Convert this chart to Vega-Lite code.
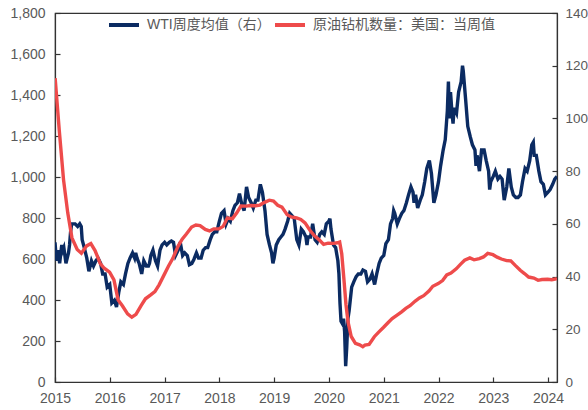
{
  "$schema": "https://vega.github.io/schema/vega-lite/v6.json",
  "width": 502,
  "height": 369,
  "autosize": {"type": "none"},
  "padding": {"left": 55, "top": 13, "right": 31, "bottom": 28},
  "config": {
    "view": {"stroke": "#333333", "strokeWidth": 1.2},
    "font": "Liberation Sans",
    "axis": {
      "grid": false,
      "domainColor": "#333333",
      "domainWidth": 1.2,
      "tickColor": "#333333",
      "tickWidth": 1.2,
      "tickSize": -5,
      "labelColor": "#595959",
      "labelFont": "Liberation Sans",
      "labelFontSize": 14,
      "title": null
    }
  },
  "datasets": {
    "wti": [
      {"date": "2015-01-01", "value": 53}, {"date": "2015-01-08", "value": 48}, {"date": "2015-01-15", "value": 46}, {"date": "2015-01-22", "value": 50}, {"date": "2015-02-01", "value": 45},
      {"date": "2015-02-15", "value": 52}, {"date": "2015-02-22", "value": 50},
      {"date": "2015-03-01", "value": 51}, {"date": "2015-03-15", "value": 45}, {"date": "2015-04-01", "value": 49}, {"date": "2015-04-08", "value": 52}, {"date": "2015-04-15", "value": 57},
      {"date": "2015-04-22", "value": 60}, {"date": "2015-05-15", "value": 60}, {"date": "2015-06-01", "value": 59}, {"date": "2015-06-15", "value": 60},
      {"date": "2015-06-25", "value": 59}, {"date": "2015-07-01", "value": 54}, {"date": "2015-07-15", "value": 51}, {"date": "2015-08-01", "value": 47}, {"date": "2015-08-15", "value": 42},
      {"date": "2015-09-01", "value": 46}, {"date": "2015-09-15", "value": 44}, {"date": "2015-10-01", "value": 46}, {"date": "2015-10-15", "value": 47},
      {"date": "2015-11-01", "value": 45}, {"date": "2015-11-15", "value": 41}, {"date": "2015-12-01", "value": 41}, {"date": "2015-12-15", "value": 36},
      {"date": "2016-01-01", "value": 37}, {"date": "2016-01-15", "value": 30}, {"date": "2016-02-01", "value": 31}, {"date": "2016-02-15", "value": 28.5},
      {"date": "2016-03-01", "value": 34}, {"date": "2016-03-15", "value": 38}, {"date": "2016-04-01", "value": 37}, {"date": "2016-04-15", "value": 41},
      {"date": "2016-05-01", "value": 45}, {"date": "2016-05-15", "value": 47}, {"date": "2016-06-01", "value": 49}, {"date": "2016-06-15", "value": 47},
      {"date": "2016-06-22", "value": 49}, {"date": "2016-07-01", "value": 47}, {"date": "2016-07-15", "value": 45}, {"date": "2016-08-01", "value": 41}, {"date": "2016-08-15", "value": 46},
      {"date": "2016-09-01", "value": 44}, {"date": "2016-09-15", "value": 44}, {"date": "2016-09-22", "value": 45}, {"date": "2016-10-01", "value": 48}, {"date": "2016-10-15", "value": 50},
      {"date": "2016-11-01", "value": 46}, {"date": "2016-11-15", "value": 44}, {"date": "2016-12-01", "value": 50}, {"date": "2016-12-15", "value": 52},
      {"date": "2017-01-01", "value": 53}, {"date": "2017-01-15", "value": 52}, {"date": "2017-02-01", "value": 53}, {"date": "2017-02-15", "value": 53.5},
      {"date": "2017-03-01", "value": 53}, {"date": "2017-03-15", "value": 48}, {"date": "2017-04-01", "value": 50}, {"date": "2017-04-15", "value": 53},
      {"date": "2017-05-01", "value": 48}, {"date": "2017-05-15", "value": 49}, {"date": "2017-06-01", "value": 48}, {"date": "2017-06-15", "value": 44.5},
      {"date": "2017-07-01", "value": 45}, {"date": "2017-07-15", "value": 46.5}, {"date": "2017-08-01", "value": 49}, {"date": "2017-08-15", "value": 47},
      {"date": "2017-09-01", "value": 47}, {"date": "2017-09-15", "value": 50}, {"date": "2017-10-01", "value": 51}, {"date": "2017-10-15", "value": 51},
      {"date": "2017-11-01", "value": 54}, {"date": "2017-11-15", "value": 56}, {"date": "2017-12-01", "value": 57}, {"date": "2017-12-15", "value": 57},
      {"date": "2018-01-01", "value": 61}, {"date": "2018-01-15", "value": 64}, {"date": "2018-02-01", "value": 65}, {"date": "2018-02-15", "value": 60},
      {"date": "2018-03-01", "value": 62}, {"date": "2018-03-15", "value": 61}, {"date": "2018-04-01", "value": 65}, {"date": "2018-04-15", "value": 67},
      {"date": "2018-05-01", "value": 68}, {"date": "2018-05-15", "value": 71.5}, {"date": "2018-06-01", "value": 67}, {"date": "2018-06-15", "value": 65},
      {"date": "2018-07-01", "value": 74}, {"date": "2018-07-15", "value": 70}, {"date": "2018-08-01", "value": 68}, {"date": "2018-08-15", "value": 66},
      {"date": "2018-09-01", "value": 69}, {"date": "2018-09-15", "value": 69}, {"date": "2018-10-01", "value": 75}, {"date": "2018-10-15", "value": 72},
      {"date": "2018-11-01", "value": 65}, {"date": "2018-11-15", "value": 56}, {"date": "2018-12-01", "value": 52}, {"date": "2018-12-15", "value": 49},
      {"date": "2018-12-24", "value": 45},
      {"date": "2019-01-01", "value": 47}, {"date": "2019-01-15", "value": 52}, {"date": "2019-02-01", "value": 54}, {"date": "2019-02-15", "value": 55},
      {"date": "2019-03-01", "value": 56}, {"date": "2019-03-15", "value": 58}, {"date": "2019-04-01", "value": 61}, {"date": "2019-04-15", "value": 64},
      {"date": "2019-05-01", "value": 63}, {"date": "2019-05-15", "value": 62}, {"date": "2019-06-01", "value": 54}, {"date": "2019-06-15", "value": 52},
      {"date": "2019-07-01", "value": 58}, {"date": "2019-07-15", "value": 57}, {"date": "2019-08-01", "value": 55}, {"date": "2019-08-08", "value": 52}, {"date": "2019-08-15", "value": 55},
      {"date": "2019-09-01", "value": 55}, {"date": "2019-09-15", "value": 60}, {"date": "2019-10-01", "value": 54}, {"date": "2019-10-15", "value": 53},
      {"date": "2019-11-01", "value": 56}, {"date": "2019-11-15", "value": 57}, {"date": "2019-12-01", "value": 56}, {"date": "2019-12-15", "value": 60},
      {"date": "2020-01-01", "value": 61}, {"date": "2020-01-08", "value": 62}, {"date": "2020-01-15", "value": 58}, {"date": "2020-02-01", "value": 52},
      {"date": "2020-02-15", "value": 51}, {"date": "2020-03-01", "value": 46}, {"date": "2020-03-08", "value": 41}, {"date": "2020-03-15", "value": 30},
      {"date": "2020-03-22", "value": 23}, {"date": "2020-04-01", "value": 22}, {"date": "2020-04-08", "value": 24}, {"date": "2020-04-15", "value": 19},
      {"date": "2020-04-22", "value": 6}, {"date": "2020-04-29", "value": 13}, {"date": "2020-05-07", "value": 24}, {"date": "2020-05-15", "value": 27},
      {"date": "2020-06-01", "value": 36}, {"date": "2020-06-15", "value": 38}, {"date": "2020-07-01", "value": 40}, {"date": "2020-07-15", "value": 41},
      {"date": "2020-08-01", "value": 41}, {"date": "2020-08-15", "value": 42.5}, {"date": "2020-09-01", "value": 42}, {"date": "2020-09-15", "value": 38},
      {"date": "2020-10-01", "value": 39}, {"date": "2020-10-15", "value": 41}, {"date": "2020-11-01", "value": 37}, {"date": "2020-11-15", "value": 41},
      {"date": "2020-12-01", "value": 45}, {"date": "2020-12-15", "value": 47},
      {"date": "2021-01-01", "value": 48}, {"date": "2021-01-15", "value": 52.5}, {"date": "2021-02-01", "value": 54}, {"date": "2021-02-15", "value": 60},
      {"date": "2021-03-01", "value": 62}, {"date": "2021-03-08", "value": 65}, {"date": "2021-03-15", "value": 64}, {"date": "2021-04-01", "value": 60}, {"date": "2021-04-15", "value": 62},
      {"date": "2021-05-01", "value": 64}, {"date": "2021-05-15", "value": 65}, {"date": "2021-06-01", "value": 68}, {"date": "2021-06-15", "value": 71},
      {"date": "2021-07-01", "value": 74}, {"date": "2021-07-15", "value": 72}, {"date": "2021-07-22", "value": 68}, {"date": "2021-08-01", "value": 71}, {"date": "2021-08-15", "value": 66},
      {"date": "2021-09-01", "value": 69}, {"date": "2021-09-15", "value": 71}, {"date": "2021-10-01", "value": 76}, {"date": "2021-10-15", "value": 81},
      {"date": "2021-11-01", "value": 84}, {"date": "2021-11-15", "value": 79}, {"date": "2021-12-01", "value": 68}, {"date": "2021-12-15", "value": 71},
      {"date": "2022-01-01", "value": 76}, {"date": "2022-01-15", "value": 82}, {"date": "2022-02-01", "value": 88}, {"date": "2022-02-15", "value": 92},
      {"date": "2022-03-01", "value": 103}, {"date": "2022-03-08", "value": 114}, {"date": "2022-03-15", "value": 100}, {"date": "2022-03-22", "value": 110}, {"date": "2022-04-01", "value": 102},
      {"date": "2022-04-08", "value": 98}, {"date": "2022-04-15", "value": 104}, {"date": "2022-05-01", "value": 102}, {"date": "2022-05-15", "value": 110}, {"date": "2022-06-01", "value": 114},
      {"date": "2022-06-10", "value": 120}, {"date": "2022-06-15", "value": 118}, {"date": "2022-07-01", "value": 107}, {"date": "2022-07-15", "value": 97},
      {"date": "2022-08-01", "value": 93}, {"date": "2022-08-15", "value": 90}, {"date": "2022-09-01", "value": 88}, {"date": "2022-09-08", "value": 82}, {"date": "2022-09-15", "value": 86},
      {"date": "2022-10-01", "value": 80}, {"date": "2022-10-15", "value": 88}, {"date": "2022-11-01", "value": 88}, {"date": "2022-11-15", "value": 84},
      {"date": "2022-12-01", "value": 80}, {"date": "2022-12-08", "value": 73}, {"date": "2022-12-15", "value": 76},
      {"date": "2023-01-01", "value": 78}, {"date": "2023-01-15", "value": 80}, {"date": "2023-02-01", "value": 77}, {"date": "2023-02-15", "value": 78},
      {"date": "2023-03-01", "value": 77}, {"date": "2023-03-15", "value": 69}, {"date": "2023-04-01", "value": 74}, {"date": "2023-04-15", "value": 81},
      {"date": "2023-05-01", "value": 74}, {"date": "2023-05-15", "value": 71}, {"date": "2023-06-01", "value": 70}, {"date": "2023-06-15", "value": 70},
      {"date": "2023-07-01", "value": 71}, {"date": "2023-07-15", "value": 76}, {"date": "2023-08-01", "value": 81}, {"date": "2023-08-15", "value": 80},
      {"date": "2023-09-01", "value": 84}, {"date": "2023-09-15", "value": 90}, {"date": "2023-09-25", "value": 91}, {"date": "2023-10-01", "value": 86},
      {"date": "2023-10-15", "value": 86}, {"date": "2023-11-01", "value": 80}, {"date": "2023-11-15", "value": 76}, {"date": "2023-12-01", "value": 75},
      {"date": "2023-12-15", "value": 71},
      {"date": "2024-01-01", "value": 72}, {"date": "2024-01-15", "value": 73}, {"date": "2024-02-01", "value": 75}, {"date": "2024-02-15", "value": 77},
      {"date": "2024-03-01", "value": 78}
    ],
    "rig": [
      {"date": "2015-01-02", "value": 1482}, {"date": "2015-01-30", "value": 1223}, {"date": "2015-02-27", "value": 986}, {"date": "2015-03-27", "value": 825},
      {"date": "2015-04-24", "value": 703}, {"date": "2015-05-29", "value": 646}, {"date": "2015-06-26", "value": 628}, {"date": "2015-07-31", "value": 664},
      {"date": "2015-08-28", "value": 675}, {"date": "2015-09-25", "value": 641}, {"date": "2015-10-30", "value": 578}, {"date": "2015-11-25", "value": 555},
      {"date": "2015-12-31", "value": 536},
      {"date": "2016-01-29", "value": 498}, {"date": "2016-02-26", "value": 400}, {"date": "2016-03-25", "value": 372}, {"date": "2016-04-29", "value": 332},
      {"date": "2016-05-27", "value": 316}, {"date": "2016-06-24", "value": 330}, {"date": "2016-07-29", "value": 374}, {"date": "2016-08-26", "value": 406},
      {"date": "2016-09-30", "value": 425}, {"date": "2016-10-28", "value": 441}, {"date": "2016-11-25", "value": 474}, {"date": "2016-12-30", "value": 525},
      {"date": "2017-01-27", "value": 566}, {"date": "2017-02-24", "value": 602}, {"date": "2017-03-31", "value": 662}, {"date": "2017-04-28", "value": 697},
      {"date": "2017-05-26", "value": 722}, {"date": "2017-06-30", "value": 756}, {"date": "2017-07-28", "value": 766}, {"date": "2017-08-25", "value": 763},
      {"date": "2017-09-29", "value": 744}, {"date": "2017-10-27", "value": 737}, {"date": "2017-11-24", "value": 747}, {"date": "2017-12-29", "value": 747},
      {"date": "2018-01-26", "value": 759}, {"date": "2018-02-23", "value": 800}, {"date": "2018-03-29", "value": 797}, {"date": "2018-04-27", "value": 825},
      {"date": "2018-05-25", "value": 859}, {"date": "2018-06-29", "value": 858}, {"date": "2018-07-27", "value": 861}, {"date": "2018-08-31", "value": 860},
      {"date": "2018-09-28", "value": 863}, {"date": "2018-10-26", "value": 875}, {"date": "2018-11-30", "value": 887}, {"date": "2018-12-28", "value": 883},
      {"date": "2019-01-25", "value": 862}, {"date": "2019-02-22", "value": 853}, {"date": "2019-03-29", "value": 816}, {"date": "2019-04-26", "value": 805},
      {"date": "2019-05-31", "value": 800}, {"date": "2019-06-28", "value": 793}, {"date": "2019-07-26", "value": 776}, {"date": "2019-08-30", "value": 738},
      {"date": "2019-09-27", "value": 713}, {"date": "2019-10-25", "value": 696}, {"date": "2019-11-27", "value": 671}, {"date": "2019-12-27", "value": 677},
      {"date": "2020-01-31", "value": 676}, {"date": "2020-02-28", "value": 679}, {"date": "2020-03-13", "value": 683}, {"date": "2020-03-27", "value": 624},
      {"date": "2020-04-10", "value": 504}, {"date": "2020-04-24", "value": 378}, {"date": "2020-05-08", "value": 292}, {"date": "2020-05-29", "value": 222},
      {"date": "2020-06-26", "value": 188}, {"date": "2020-07-24", "value": 181}, {"date": "2020-08-14", "value": 172}, {"date": "2020-08-28", "value": 180},
      {"date": "2020-09-25", "value": 183}, {"date": "2020-10-30", "value": 221}, {"date": "2020-11-25", "value": 241}, {"date": "2020-12-31", "value": 267},
      {"date": "2021-01-29", "value": 289}, {"date": "2021-02-26", "value": 309}, {"date": "2021-03-26", "value": 324}, {"date": "2021-04-30", "value": 342},
      {"date": "2021-05-28", "value": 359}, {"date": "2021-06-25", "value": 372}, {"date": "2021-07-30", "value": 395}, {"date": "2021-08-27", "value": 410},
      {"date": "2021-09-24", "value": 421}, {"date": "2021-10-29", "value": 444}, {"date": "2021-11-24", "value": 467}, {"date": "2021-12-30", "value": 480},
      {"date": "2022-01-28", "value": 495}, {"date": "2022-02-25", "value": 522}, {"date": "2022-03-25", "value": 531}, {"date": "2022-04-29", "value": 552},
      {"date": "2022-05-27", "value": 574}, {"date": "2022-06-24", "value": 594}, {"date": "2022-07-29", "value": 605}, {"date": "2022-08-26", "value": 596},
      {"date": "2022-09-30", "value": 602}, {"date": "2022-10-28", "value": 610}, {"date": "2022-11-25", "value": 627}, {"date": "2022-12-30", "value": 621},
      {"date": "2023-01-27", "value": 609}, {"date": "2023-02-24", "value": 600}, {"date": "2023-03-31", "value": 592}, {"date": "2023-04-28", "value": 591},
      {"date": "2023-05-26", "value": 570}, {"date": "2023-06-30", "value": 545}, {"date": "2023-07-28", "value": 529}, {"date": "2023-08-25", "value": 512},
      {"date": "2023-09-29", "value": 507}, {"date": "2023-10-27", "value": 496}, {"date": "2023-11-22", "value": 500}, {"date": "2023-12-29", "value": 501},
      {"date": "2024-01-26", "value": 499}, {"date": "2024-02-23", "value": 503}, {"date": "2024-03-01", "value": 506}
    ]
  },
  "encoding": {
    "x": {
      "field": "date",
      "type": "temporal",
      "scale": {"type": "utc", "domain": [{"year": 2015, "month": 1, "date": 1, "utc": true}, {"year": 2024, "month": 3, "date": 1, "utc": true}]},
      "axis": {"format": "%Y", "tickCount": {"interval": "year", "step": 1}, "labelFlush": false, "labelPadding": 14, "labelOverlap": false}
    }
  },
  "layer": [
    {
      "data": {"name": "wti"},
      "mark": {"type": "line", "strokeWidth": 3.4, "clip": true},
      "encoding": {
        "y": {
          "field": "value",
          "type": "quantitative",
          "scale": {"domain": [0, 140], "nice": false},
          "axis": {"orient": "right", "values": [0, 20, 40, 60, 80, 100, 120, 140], "labelPadding": 13, "labelFontSize": 13.5}
        },
        "color": {
          "datum": "WTI周度均值（右）",
          "type": "nominal",
          "scale": {"domain": ["WTI周度均值（右）", "原油钻机数量：美国：当周值"], "range": ["#0b2b62", "#ee4b4b"]},
          "legend": {
            "orient": "none",
            "legendX": 52,
            "legendY": -5,
            "direction": "horizontal",
            "title": null,
            "symbolType": "stroke",
            "symbolSize": 900,
            "symbolStrokeWidth": 4,
            "labelFont": "Liberation Sans, Noto Sans CJK SC",
            "labelFontSize": 14,
            "labelColor": "#595959",
            "labelOffset": 6,
            "labelLimit": 400,
            "columnPadding": -4,
            "padding": 0
          }
        }
      }
    },
    {
      "data": {"name": "rig"},
      "mark": {"type": "line", "strokeWidth": 3.4, "clip": true},
      "encoding": {
        "y": {
          "field": "value",
          "type": "quantitative",
          "scale": {"domain": [0, 1800], "nice": false},
          "axis": {"orient": "left", "values": [0, 200, 400, 600, 800, 1000, 1200, 1400, 1600, 1800], "format": ",.0f", "labelPadding": 15}
        },
        "color": {"datum": "原油钻机数量：美国：当周值", "type": "nominal"}
      }
    }
  ],
  "resolve": {"scale": {"y": "independent"}}
}
